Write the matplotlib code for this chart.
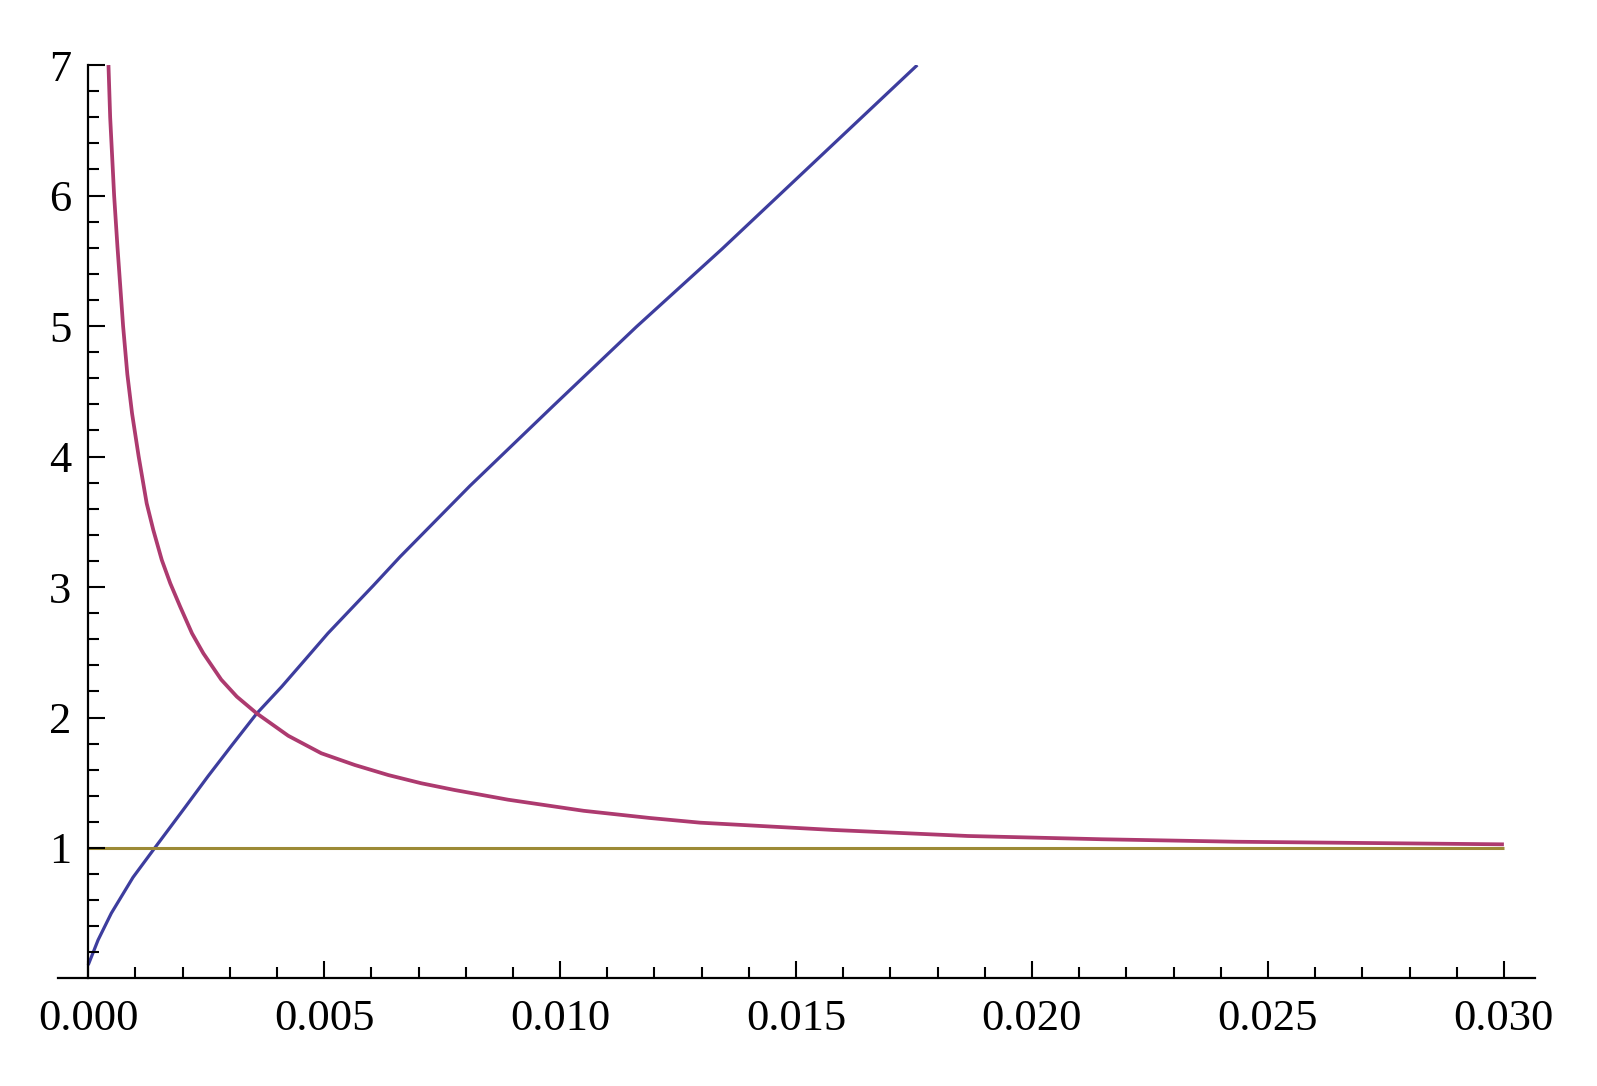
"""Three curves on shared axes, Mathematica-style plot."""

import matplotlib
matplotlib.use("Agg")
import matplotlib.pyplot as plt
from matplotlib.ticker import FixedLocator, FormatStrFormatter

# ---------------------------------------------------------------------------
# Data
# ---------------------------------------------------------------------------

BLUE_X = [0.0, 0.00021, 0.00049, 0.00095, 0.00141, 0.00205, 0.00254, 0.00304,
          0.00357, 0.0041, 0.00459, 0.00508, 0.00565, 0.00604, 0.00661,
          0.00809, 0.00986, 0.01162, 0.01343, 0.01757]
BLUE_Y = [0.103, 0.295, 0.50, 0.775, 1.0, 1.31, 1.55, 1.785,
          2.03, 2.236, 2.44, 2.645, 2.862, 3.01, 3.232,
          3.775, 4.39, 4.995, 5.59, 7.0]

MAGENTA_X = [0.00043, 0.000466, 0.00055, 0.00062, 0.00074, 0.00083, 0.00093,
             0.00107, 0.00124, 0.00138, 0.00156, 0.00174, 0.00195, 0.0022,
             0.00244, 0.00282, 0.00315, 0.00357, 0.00424, 0.00494, 0.00565,
             0.00636, 0.00706, 0.00777, 0.0089, 0.0105, 0.0119, 0.01297,
             0.0158, 0.01864, 0.02148, 0.02432, 0.02715, 0.030]
MAGENTA_Y = [7.0, 6.6, 6.0, 5.61, 5.0, 4.63, 4.33,
             4.0, 3.641, 3.437, 3.207, 3.028, 2.849, 2.645,
             2.492, 2.29, 2.16, 2.032, 1.86, 1.726, 1.636,
             1.559, 1.496, 1.444, 1.37, 1.285, 1.23, 1.194,
             1.138, 1.092, 1.067, 1.048, 1.038, 1.028]

GOLD_X = [0.0, 0.030]
GOLD_Y = [1.0, 1.0]

X_MAJOR = [0.0, 0.005, 0.010, 0.015, 0.020, 0.025, 0.030]
Y_MAJOR = [1, 2, 3, 4, 5, 6, 7]

# ---------------------------------------------------------------------------
# Style
# ---------------------------------------------------------------------------

BLUE    = "#3d3d9e"
MAGENTA = "#ad3a6f"
GOLD    = "#9c8a36"
FONT    = "Liberation Serif"


def main() -> None:
    plt.rcParams["font.family"] = [FONT, "DejaVu Serif"]

    fig = plt.figure(figsize=(15.97, 10.86), dpi=100)
    ax = fig.add_axes([0.0363, 0.099, 0.9249, 0.8411])

    ax.plot(BLUE_X, BLUE_Y, color=BLUE, linewidth=2.3, solid_capstyle="butt")
    ax.plot(MAGENTA_X, MAGENTA_Y, color=MAGENTA, linewidth=2.7, solid_capstyle="butt")
    ax.plot(GOLD_X, GOLD_Y, color=GOLD, linewidth=2.2, solid_capstyle="butt")

    ax.set_xlim(-0.00064, 0.03066)
    ax.set_ylim(0, 7)

    # — axes through the origin, Mathematica look ---------------------------
    for side in ("top", "right"):
        ax.spines[side].set_visible(False)
    ax.spines["left"].set_position(("data", 0))
    ax.spines["left"].set_linewidth(1.6)
    ax.spines["bottom"].set_linewidth(1.6)
    ax.set_axisbelow(False)

    ax.xaxis.set_major_locator(FixedLocator(X_MAJOR))
    ax.xaxis.set_minor_locator(FixedLocator([i * 0.001 for i in range(31) if i % 5]))
    ax.xaxis.set_major_formatter(FormatStrFormatter("%.3f"))

    ax.yaxis.set_major_locator(FixedLocator(Y_MAJOR))
    ax.yaxis.set_minor_locator(FixedLocator([i * 0.2 for i in range(1, 35) if i % 5]))

    ax.tick_params(which="both", direction="in", width=1.5, labelsize=32)
    ax.tick_params(which="major", length=12.5)
    ax.tick_params(which="minor", length=8)
    ax.tick_params(axis="x", which="major", pad=15)
    ax.tick_params(axis="y", which="major", pad=12)

    fig.savefig("out.png", dpi=100, facecolor="white")
    plt.close(fig)


if __name__ == "__main__":
    main()
